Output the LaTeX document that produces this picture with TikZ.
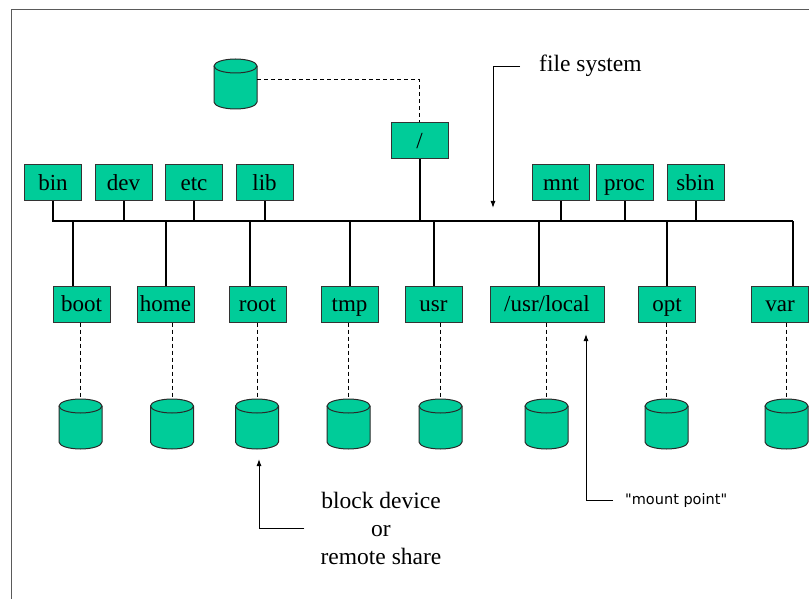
\documentclass[tikz,border=0pt]{standalone}
\usepackage{fontspec}
\setmainfont{Liberation Serif}
\newfontfamily\mpfont{DejaVu Sans}
\usetikzlibrary{arrows.meta}
\definecolor{boxgreen}{RGB}{0,204,153}
\definecolor{boxline}{RGB}{51,51,51}
\definecolor{framegray}{RGB}{90,90,90}
\tikzset{
  dirbox/.style={draw=boxline, line width=1pt, fill=boxgreen, minimum width=57pt, minimum height=36pt, inner sep=0pt, text height=20.5pt, text depth=5pt, font=\fontsize{23}{24}\selectfont},
  conn/.style={line width=2pt, black},
  dashconn/.style={line width=1pt, black, dash pattern=on 4pt off 3pt},
  cylfill/.style={draw=boxline!80!black, line width=1pt, fill=boxgreen},
  cylline/.style={draw=boxline!80!black, line width=1pt},
  callout/.style={line width=1pt, black, -{Latex[length=7pt,width=5pt]}},
  lbl/.style={font=\fontsize{23.5}{28}\selectfont, inner sep=2pt},
}
\newcommand\dcyl[3]{%
  \coordinate (#1) at (#2,#3);
  \filldraw[cylfill] ([shift={(-21.5,7)}]#1) -- ([shift={(-21.5,43)}]#1)
    arc[start angle=180,end angle=360,x radius=21.5pt,y radius=7pt]
    -- ([shift={(21.5,7)}]#1)
    arc[start angle=0,end angle=180,x radius=21.5pt,y radius=7pt] -- cycle;
  \draw[cylline] ([shift={(-21.5,7)}]#1)
    arc[start angle=180,end angle=360,x radius=21.5pt,y radius=7pt];
}
\begin{document}
\begin{tikzpicture}[x=1pt,y=-1pt]
\useasboundingbox (0,0) rectangle (809,599);
% frame
\draw[framegray, line width=1pt] (11,599) -- (11,10) -- (812,10);

% root and its device
\node[dirbox] (slash) at (419.5,140.5) {/};
\dcyl{cyltop}{235.5}{59}

% top-level directories
\node[dirbox] (bin)  at (53,183)    {bin};
\node[dirbox] (dev)  at (123.5,183) {dev};
\node[dirbox] (etc)  at (194,183)   {etc};
\node[dirbox] (lib)  at (264.5,183) {lib};
\node[dirbox] (mnt)  at (561,183)   {mnt};
\node[dirbox] (proc) at (624.5,183) {proc};
\node[dirbox] (sbin) at (695.5,183) {sbin};

% bus
\coordinate (busL) at (52,221);
\coordinate (busR) at (793,221);

% lower directories
\node[dirbox] (boot) at (81.5,304)  {boot};
\node[dirbox] (home) at (165.5,304) {home};
\node[dirbox] (root) at (257.5,304) {root};
\node[dirbox] (tmp)  at (349.5,304) {tmp};
\node[dirbox] (usr)  at (433.5,304) {usr};
\node[dirbox, minimum width=114pt] (usrlocal) at (547,304) {/usr/local};
\node[dirbox] (opt)  at (667,304)   {opt};
\node[dirbox] (var)  at (780,304)   {var};

% devices
\dcyl{cboot}{80.5}{399}
\dcyl{chome}{172}{399}
\dcyl{croot}{257}{399}
\dcyl{ctmp}{348.5}{399}
\dcyl{cusr}{440.5}{399}
\dcyl{cusrlocal}{546.5}{399}
\dcyl{copt}{666.5}{399}
\dcyl{cvar}{786.5}{399}

% connectors
\draw[conn] (busL) -- (busR);
\draw[conn] (slash.south) -- (slash.south |- busL);
\foreach \n in {bin,dev,etc,lib,mnt,proc,sbin}
  \draw[conn] (\n.south) -- (\n.south |- busL);
\draw[conn] ([xshift=-8.5pt]boot.north) -- ([xshift=-8.5pt]boot.north |- busL);
\draw[conn] (home.north) -- (home.north |- busL);
\draw[conn] ([xshift=-7.5pt]root.north) -- ([xshift=-7.5pt]root.north |- busL);
\draw[conn] (tmp.north) -- (tmp.north |- busL);
\draw[conn] (usr.north) -- (usr.north |- busL);
\draw[conn] ([xshift=-8pt]usrlocal.north) -- ([xshift=-8pt]usrlocal.north |- busL);
\draw[conn] (opt.north) -- (opt.north |- busL);
\draw[conn] ([xshift=13pt]var.north) -- (busR);

% dashed mounts
\draw[dashconn] ([shift={(21.5,21)}]cyltop) -| (slash.north);
\foreach \b/\c in {boot/cboot,home/chome,root/croot,tmp/ctmp,usr/cusr,usrlocal/cusrlocal,opt/copt,var/cvar}
  \draw[dashconn] (\c |- \b.south) -- (\c);

% callouts
\node[lbl, anchor=west] (fs) at (537,66) {file system};
\coordinate (fsT) at (493,208);
\draw[callout] ([xshift=-17pt,yshift=-1pt]fs.west) -| (fsT);

\node[font=\mpfont\fontsize{14.5}{16}\selectfont, anchor=west, inner sep=2pt] (mp) at (623,500) {"mount point"};
\coordinate (mpT) at (586,334);
\draw[callout] ([xshift=-10pt]mp.west) -| (mpT);

\node[lbl, align=center] (bd) at (381,528) {block device\\or\\remote share};
\coordinate (bdT) at (259,459);
\draw[callout] ([xshift=-14pt]bd.west) -| (bdT);
\end{tikzpicture}
\end{document}
